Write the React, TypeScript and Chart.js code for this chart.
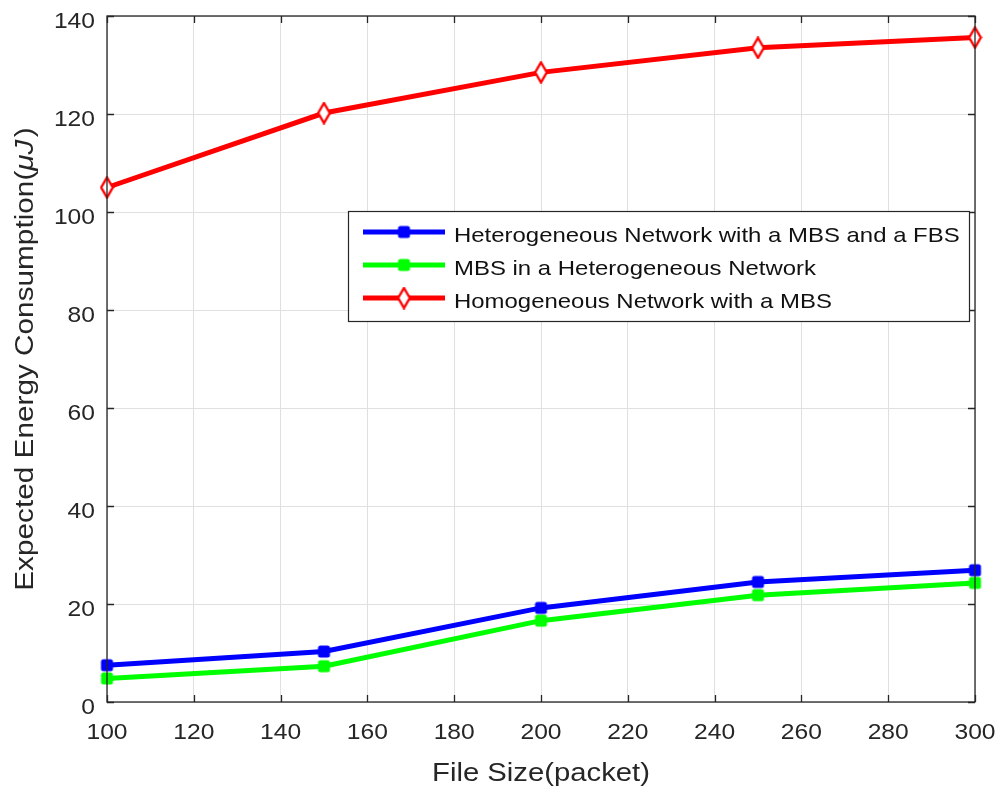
import React, { useEffect, useRef } from "react";
import { Chart, registerables } from "chart.js";

Chart.register(...registerables);

const fileSizes = [100, 150, 200, 250, 300];
const heteroNetwork = [7.5, 10.3, 19.2, 24.5, 26.9];
const mbsInHetero = [4.8, 7.3, 16.6, 21.8, 24.3];
const homoNetwork = [105, 120.2, 128.5, 133.5, 135.6];
const xTicks = [100, 120, 140, 160, 180, 200, 220, 240, 260, 280, 300];
const yTicks = [0, 20, 40, 60, 80, 100, 120, 140];
const seriesNames = [
  "Heterogeneous Network with a MBS and a FBS",
  "MBS in a Heterogeneous Network",
  "Homogeneous Network with a MBS",
];
const seriesColors = ["#0000FF", "#00FF00", "#FF0000"];
const xTitle = "File Size(packet)";
const yTitleParts = ["Expected Energy Consumption(", "μJ", ")"];

const FONT = "'Liberation Sans', Arial, sans-serif";
const AXIS_COLOR = "#262626";

function makeDiamond(): HTMLCanvasElement {
  const c = document.createElement("canvas");
  c.width = 15;
  c.height = 23;
  const g = c.getContext("2d")!;
  g.beginPath();
  g.moveTo(7.5, 1.5);
  g.lineTo(13.3, 11.5);
  g.lineTo(7.5, 21.5);
  g.lineTo(1.7, 11.5);
  g.closePath();
  g.fillStyle = "#ffffff";
  g.fill();
  g.lineWidth = 2.4;
  g.strokeStyle = "#FF0000";
  g.stroke();
  return c;
}

function makeSquare(color: string): HTMLCanvasElement {
  const c = document.createElement("canvas");
  c.width = 15;
  c.height = 15;
  const g = c.getContext("2d")!;
  g.fillStyle = color;
  g.beginPath();
  g.moveTo(4, 1.5);
  g.lineTo(11, 1.5);
  g.quadraticCurveTo(13.5, 1.5, 13.5, 4);
  g.lineTo(13.5, 11);
  g.quadraticCurveTo(13.5, 13.5, 11, 13.5);
  g.lineTo(4, 13.5);
  g.quadraticCurveTo(1.5, 13.5, 1.5, 11);
  g.lineTo(1.5, 4);
  g.quadraticCurveTo(1.5, 1.5, 4, 1.5);
  g.closePath();
  g.fill();
  return c;
}

function stretchedText(
  ctx: CanvasRenderingContext2D,
  text: string,
  x: number,
  y: number,
  align: CanvasTextAlign,
  sx: number
) {
  ctx.save();
  ctx.translate(x, y);
  ctx.scale(sx, 1);
  ctx.textAlign = align;
  ctx.textBaseline = "alphabetic";
  ctx.fillText(text, 0, 0);
  ctx.restore();
}

export default function App() {
  const ref = useRef<HTMLCanvasElement>(null);

  useEffect(() => {
    document.body.style.margin = "0";
    const canvas = ref.current!;
    const markers = [makeSquare("#0000FF"), makeSquare("#00FF00"), makeDiamond()];
    const seriesValues = [heteroNetwork, mbsInHetero, homoNetwork];

    const framePlugin = {
      id: "frame",
      afterDraw(chart: any) {
        const { ctx, chartArea } = chart;
        const { left, right, top, bottom } = chartArea;
        const xs = chart.scales.x;
        const ys = chart.scales.y;
        ctx.save();
        ctx.strokeStyle = AXIS_COLOR;
        ctx.lineWidth = 1.3;
        ctx.strokeRect(left, top, right - left, bottom - top);
        ctx.beginPath();
        xTicks.forEach((t) => {
          const px = Math.round(xs.getPixelForValue(t)) + 0.5;
          ctx.moveTo(px, bottom);
          ctx.lineTo(px, bottom - 7);
          ctx.moveTo(px, top);
          ctx.lineTo(px, top + 7);
        });
        yTicks.forEach((t) => {
          const py = Math.round(ys.getPixelForValue(t)) + 0.5;
          ctx.moveTo(left, py);
          ctx.lineTo(left + 7, py);
          ctx.moveTo(right, py);
          ctx.lineTo(right - 7, py);
        });
        ctx.stroke();

        // tick labels
        ctx.fillStyle = AXIS_COLOR;
        ctx.font = `22px ${FONT}`;
        xTicks.forEach((t) => {
          stretchedText(ctx, String(t), xs.getPixelForValue(t), 739, "center", 1.12);
        });
        yTicks.forEach((t) => {
          stretchedText(ctx, String(t), 95, ys.getPixelForValue(t) + 11.5, "right", 1.12);
        });

        // axis titles
        ctx.font = `25px ${FONT}`;
        stretchedText(ctx, xTitle, (left + right) / 2, 781, "center", 1.17);

        ctx.save();
        ctx.translate(33, (top + bottom) / 2);
        ctx.rotate(-Math.PI / 2);
        ctx.scale(1.19, 1);
        ctx.textBaseline = "alphabetic";
        ctx.textAlign = "left";
        const fonts = [`25px ${FONT}`, `italic 25px ${FONT}`, `25px ${FONT}`];
        let total = 0;
        const widths = yTitleParts.map((p, i) => {
          ctx.font = fonts[i];
          const w = ctx.measureText(p).width + (i === 1 ? 2 : 0);
          total += w;
          return w;
        });
        let cx = -total / 2;
        yTitleParts.forEach((p, i) => {
          ctx.font = fonts[i];
          ctx.fillText(p, cx, 0);
          cx += widths[i];
        });
        ctx.restore();

        // legend
        const bx = 348, by = 211, bw = 621, bh = 110;
        ctx.fillStyle = "#ffffff";
        ctx.fillRect(bx, by, bw, bh);
        ctx.lineWidth = 1.2;
        ctx.strokeStyle = AXIS_COLOR;
        ctx.strokeRect(bx + 0.5, by + 0.5, bw, bh);
        const rowsY = [232, 265, 298];
        ctx.font = `21px ${FONT}`;
        seriesNames.forEach((name, i) => {
          const y = rowsY[i];
          ctx.strokeStyle = seriesColors[i];
          ctx.lineWidth = 5;
          ctx.beginPath();
          ctx.moveTo(363, y);
          ctx.lineTo(445, y);
          ctx.stroke();
          const m = markers[i];
          ctx.drawImage(m, 404 - m.width / 2, y - m.height / 2);
          ctx.fillStyle = "#111111";
          stretchedText(ctx, name, 454, y + 9.5, "left", 1.14);
        });
        ctx.restore();
      },
    };

    const chart = new Chart(canvas, {
      type: "line",
      data: {
        datasets: seriesNames.map((name, i) => ({
          label: name,
          data: fileSizes.map((x, j) => ({ x, y: seriesValues[i][j] })),
          borderColor: seriesColors[i],
          backgroundColor: seriesColors[i],
          borderWidth: 5,
          pointStyle: markers[i] as any,
          pointRadius: 7,
          tension: 0,
          clip: false as any,
        })),
      },
      options: {
        animation: false,
        responsive: false,
        maintainAspectRatio: false,
        layout: { padding: { left: 0, right: 27, top: 16, bottom: 0 } },
        plugins: {
          legend: { display: false },
          tooltip: { enabled: false },
        },
        scales: {
          x: {
            type: "linear",
            min: 100,
            max: 300,
            afterBuildTicks: (s: any) => {
              s.ticks = xTicks.map((v) => ({ value: v }));
            },
            afterFit: (s: any) => {
              s.height = 92;
            },
            grid: { color: "#e0e0e0", lineWidth: 1, drawTicks: false },
            border: { display: false },
            ticks: { display: false },
            title: { display: false },
          },
          y: {
            type: "linear",
            min: 0,
            max: 140,
            afterBuildTicks: (s: any) => {
              s.ticks = yTicks.map((v) => ({ value: v }));
            },
            afterFit: (s: any) => {
              s.width = 107;
            },
            grid: { color: "#e0e0e0", lineWidth: 1, drawTicks: false },
            border: { display: false },
            ticks: { display: false },
            title: { display: false },
          },
        },
      },
      plugins: [framePlugin],
    });
    return () => chart.destroy();
  }, []);

  return (
    <div style={{ width: 1002, height: 794, background: "#fff" }}>
      <canvas ref={ref} width={1002} height={794} style={{ display: "block" }} />
    </div>
  );
}
